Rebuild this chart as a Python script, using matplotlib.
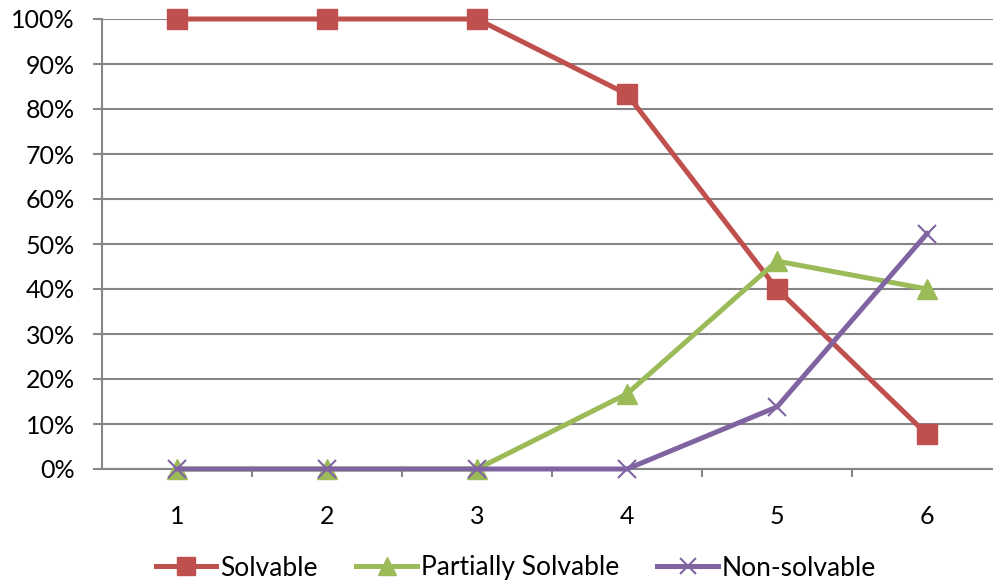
import matplotlib
matplotlib.use("Agg")
import matplotlib.pyplot as plt
from matplotlib.ticker import FuncFormatter, MultipleLocator

categories = [1, 2, 3, 4, 5, 6]
solvable = [100, 100, 100, 83.3, 40.0, 7.7]
partially = [0, 0, 0, 16.7, 46.2, 40.0]
non_solvable = [0, 0, 0, 0, 13.8, 52.3]

plt.rcParams['font.family'] = ['Lato', 'DejaVu Sans']

W, H = 993, 586
fig = plt.figure(figsize=(W/100, H/100), dpi=100)
left, right, top, bottom = 102, 1002, 19, 469
ax = fig.add_axes([left/W, 1-bottom/H, (right-left)/W, (bottom-top)/H])

grid_c = '#868686'
fs = 18
ax.set_xlim(0.5, 6.5)
ax.set_ylim(0, 100)
ax.yaxis.set_major_locator(MultipleLocator(10))
ax.yaxis.set_major_formatter(FuncFormatter(lambda v, p: f"{int(round(v))}%"))
ax.grid(axis='y', color=grid_c, linewidth=1.5)
ax.set_axisbelow(True)
for s in ['top', 'right']:
    ax.spines[s].set_visible(False)
for s in ['left', 'bottom']:
    ax.spines[s].set_color(grid_c)
    ax.spines[s].set_linewidth(1.5)

ax.set_xticks(categories)
ax.set_xticklabels([str(c) for c in categories])
ax.set_xticks([1.5, 2.5, 3.5, 4.5, 5.5], minor=True)
ax.tick_params(axis='x', which='major', length=0, pad=26, labelsize=fs, colors='black')
ax.tick_params(axis='x', which='minor', length=6, width=1.5, color=grid_c, direction='out')
ax.tick_params(axis='y', length=6.5, width=1.5, color=grid_c, pad=13, labelsize=fs, labelcolor='black')

lw = 3.6
ax.plot(categories, solvable, color='#C0504D', lw=lw, marker='s', markersize=15,
        label='Solvable', clip_on=False, zorder=3)
ax.plot(categories, partially, color='#9BBB59', lw=lw, marker='^', markersize=15,
        label='Partially Solvable', clip_on=False, zorder=4)
ax.plot(categories, non_solvable, color='#8064A2', lw=lw, marker='x', markersize=13,
        markeredgewidth=1.5, label='Non-solvable', clip_on=False, zorder=5)

fig.legend(loc='center', bbox_to_anchor=(516/W, 1-568/H), ncol=3, frameon=False,
           fontsize=19, handlelength=2.3, handletextpad=0.15, columnspacing=1.45,
           markerscale=0.9)

fig.savefig('out.png', dpi=100)
